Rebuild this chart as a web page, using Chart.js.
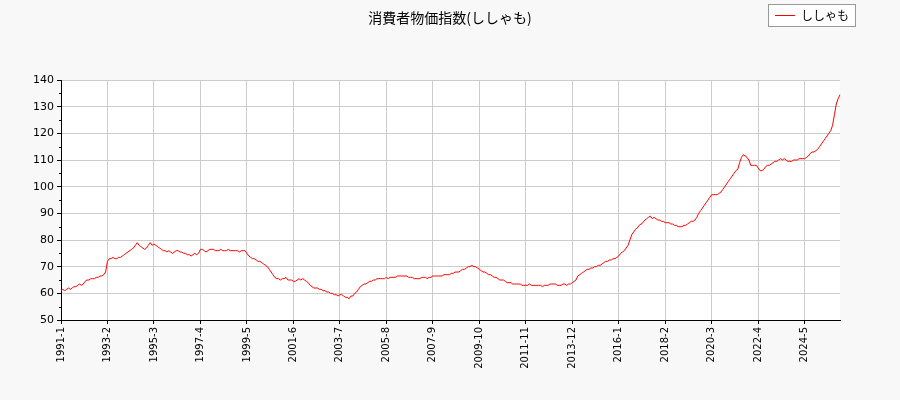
<!DOCTYPE html>
<html>
<head>
<meta charset="utf-8">
<script src="https://cdn.jsdelivr.net/npm/chart.js@4"></script>
<style>
  body { margin: 0; background: #f8f8f8; }
  #wrap { width: 900px; height: 400px; }
</style>
</head>
<body>
<div id="wrap"><canvas id="cpi"></canvas></div>
<script>
const chartTitle = '消費者物価指数(ししゃも)';
const seriesName = 'ししゃも';
const startYear = 1991;
const yTicks = [50, 60, 70, 80, 90, 100, 110, 120, 130, 140];

// monthly values, one row per year
const values = [
  61,61.5,61,61.5,62,61.5,62,62.5,62.5,63,63.5,63,
  63.5,64.5,65,65,65.5,65.5,65.5,66,66,66.5,66.5,67,
  68,72,73,73,73.5,73,73,73.5,73.5,74,74.5,75,
  75.5,76,76.5,77,78,79,78,77.5,77,76.5,77,78,
  79,78,78.5,78,77.5,77,76.5,76,76,75.5,76,75.5,
  75,75.5,76,76,75.5,75.5,75,75,74.5,74.5,74,74.5,
  75,74.5,75,76.5,76.5,76,75.5,76,76.5,76.5,76.5,76,
  76,76,76.5,76,76,76,76.5,76,76,76,76,76,
  75.5,76,76,76,75,74,73.5,73,73,72.5,72,72,
  71.5,71,70.5,70,69,68,67,66,65.5,65.5,65,65.5,
  65.5,66,65,65,65,64.5,64.5,65,65.5,65,65.5,65,
  64.5,64,63,62.5,62,62,62,61.5,61.5,61,61,60.5,
  60.5,60,60,59.5,59.5,59,59.5,59.5,59,58.5,58.5,58,
  59,59,60,60.5,61.5,62.5,63,63.5,63.5,64,64.5,64.5,
  65,65,65.5,65.5,65.5,65.5,65.5,66,65.5,66,66,66,
  66,66.5,66.5,66.5,66.5,66.5,66.5,66,66,66,65.5,65.5,
  65.5,65.5,66,66,66,65.5,66,66,66.5,66.5,66.5,66.5,
  66.5,66.5,67,67,67,67,67.5,67.5,68,68,68,68.5,
  69,69,69.5,70,70,70.5,70,70,69.5,69,68.5,68,
  68,67.5,67,67,66.5,66,66,65.5,65,65,65,64.5,
  64,64,64,63.5,63.5,63.5,63.5,63.5,63,63,63,63,
  63.5,63,63,63,63,63,63,62.5,63,63,63,63.5,
  63.5,63.5,63.5,63,63,63,63.5,63.5,63,63.5,63.5,64,
  64.5,65,66.5,67,67.5,68,68.5,69,69,69.5,69.5,70,
  70,70.5,70.5,71,71.5,72,72,72.5,72.5,73,73,73.5,
  74,75,75.5,76,77,78,80,82,83,84,84.5,85.5,
  86,86.5,87.5,88,88.5,89,88,88.5,88,87.5,87.5,87,
  87,86.5,86.5,86.5,86,86,85.5,85.5,85,85,85,85.5,
  85.5,86,86.5,87,87,87.5,88.5,90,91,92,93,94,
  95,96,97,97,97,97,97.5,98,99,100,101,102,
  103,104,105,106,106.5,109,111,112,111.5,111,110,108,
  108,108,108,107,106,106,106.5,107.5,108,108,108.5,109,
  109.5,109.5,110,110.5,110,110.5,110,109.5,109.5,109.5,110,110,
  110,110.5,110.5,110.5,110.5,111,111.5,112.5,113,113,113.5,114,
  115,116,117,118,119,120,121,123,127,131,133,134.5
];

const labels = values.map((_, i) => (startYear + Math.floor(i / 12)) + '-' + (i % 12 + 1));

const decor = {
    id: 'decor',
    beforeDraw(chart) {
        const { ctx, chartArea } = chart;
        ctx.save();
        ctx.fillStyle = '#f8f8f8';
        ctx.fillRect(0, 0, chart.width, chart.height);
        ctx.fillStyle = '#ffffff';
        ctx.fillRect(chartArea.left, chartArea.top, chartArea.right - chartArea.left, chartArea.bottom - chartArea.top);
        ctx.restore();
    },
    afterDraw(chart) {
        const { ctx, chartArea } = chart;
        ctx.save();
        ctx.fillStyle = '#000';
        ctx.font = '14px "Noto Sans CJK JP"';
        ctx.textAlign = 'center';
        ctx.textBaseline = 'middle';
        ctx.fillText(chartTitle, 450, 18);
        // legend box
        ctx.fillStyle = '#fff';
        ctx.fillRect(768.5, 4.5, 87, 22);
        ctx.strokeStyle = '#999';
        ctx.lineWidth = 1;
        ctx.strokeRect(768.5, 4.5, 87, 22);
        ctx.strokeStyle = 'red';
        ctx.beginPath();
        ctx.moveTo(775, 15.5);
        ctx.lineTo(795, 15.5);
        ctx.stroke();
        ctx.fillStyle = '#000';
        ctx.font = '12px "Noto Sans CJK JP"';
        ctx.textAlign = 'left';
        ctx.fillText(seriesName, 801, 15.5);
        // minor ticks on y axis
        const y = chart.scales.y;
        ctx.strokeStyle = '#000';
        ctx.beginPath();
        for (let v = 55; v < 140; v += 10) {
            const py = Math.round(y.getPixelForValue(v)) + 0.5;
            ctx.moveTo(chartArea.left - 2, py);
            ctx.lineTo(chartArea.left, py);
        }
        ctx.stroke();
        ctx.restore();
    }
};

new Chart(document.getElementById('cpi').getContext('2d'), {
    type: 'line',
    data: {
        labels: labels,
        datasets: [{
            label: seriesName,
            data: values,
            borderColor: 'red',
            borderWidth: 1,
            pointRadius: 0,
            tension: 0
        }]
    },
    options: {
        animation: false,
        responsive: true,
        maintainAspectRatio: false,
        layout: { padding: { top: 80, right: 60, left: 0, bottom: 0 } },
        plugins: { legend: { display: false }, title: { display: false }, tooltip: { enabled: false } },
        scales: {
            x: {
                afterFit: s => { s.height = 80; },
                offset: false,
                border: { color: '#000' },
                grid: {
                    color: c => c.index % 25 === 0 ? '#cccccc' : 'transparent',
                    tickColor: c => c.index % 25 === 0 ? '#000' : 'transparent',
                    tickLength: 4
                },
                ticks: {
                    autoSkip: false,
                    maxRotation: 90,
                    minRotation: 90,
                    color: '#000',
                    font: { family: 'DejaVu Sans', size: 10 },
                    callback: (v, i) => i % 25 === 0 ? labels[i] : ''
                }
            },
            y: {
                min: 50,
                max: 140,
                afterFit: s => { s.width = 61; },
                afterBuildTicks: s => { s.ticks = yTicks.map(v => ({ value: v })); },
                border: { color: '#000' },
                grid: { color: '#cccccc', tickColor: '#000', tickLength: 4 },
                ticks: { color: '#000', font: { family: 'DejaVu Sans', size: 11 } }
            }
        }
    },
    plugins: [decor]
});
</script>
</body>
</html>
